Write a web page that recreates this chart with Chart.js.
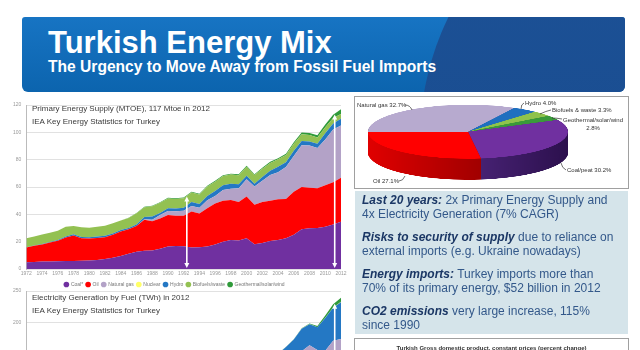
<!DOCTYPE html>
<html><head><meta charset="utf-8">
<script src="https://cdn.jsdelivr.net/npm/chart.js@4.4.1/dist/chart.umd.min.js"></script>
<style>
html,body{margin:0;padding:0;width:640px;height:350px;overflow:hidden;background:#fff;font-family:"Liberation Sans",Arial,sans-serif;}
.abs{position:absolute;}
#banner{left:22px;top:17px;width:603px;height:75px;border-radius:3px 3px 6px 6px;overflow:hidden;background:linear-gradient(#1774c3,#0c64ae);}
#banner .dark{position:absolute;left:398px;top:-157px;width:560px;height:560px;border-radius:50%;background:linear-gradient(#1d5399,#174889);}
#t1{left:26px;top:10px;font-size:31px;font-weight:bold;color:#fff;line-height:31px;white-space:nowrap;}
#t2{left:26px;top:42px;font-size:15.6px;font-weight:bold;color:#fff;line-height:16px;white-space:nowrap;}
.ctitle{font-size:8px;color:#3a3a3a;white-space:nowrap;line-height:8px;}
#piebox{left:354px;top:96px;width:273px;height:91px;border:1px solid #a0a0a0;background:#fff;}
.plab{font-size:6px;color:#333;white-space:nowrap;line-height:6px;}
#textbox{left:355px;top:191px;width:273px;height:143px;background:#d5e4ea;box-sizing:border-box;padding:2px 12px 0 7px;color:#33588a;font-size:12px;line-height:14.2px;}
#textbox p{margin:0 0 8.5px 0;}
#textbox b{color:#1b3765;font-style:italic;}
#gdpbox{left:354px;top:338px;width:273px;height:20px;border:1px solid #a0a0a0;background:#fff;text-align:center;font-size:6px;color:#333;line-height:18px;font-weight:bold;}
</style></head>
<body>
<div id="banner" class="abs"><div class="dark"></div>
  <div id="t1" class="abs">Turkish Energy Mix</div>
  <div id="t2" class="abs">The Urgency to Move Away from Fossil Fuel Imports</div>
</div>

<canvas id="c1" class="abs" width="350" height="200" style="left:0;top:97px;"></canvas>
<div class="abs ctitle" style="left:32px;top:105px;">Primary Energy Supply (MTOE), 117 Mtoe in 2012</div>
<div class="abs ctitle" style="left:32px;top:118px;">IEA Key Energy Statistics for Turkey</div>

<canvas id="c2" class="abs" width="350" height="190" style="left:0;top:283px;"></canvas>
<div class="abs ctitle" style="left:32px;top:294px;">Electricity Generation by Fuel (TWh) in 2012</div>
<div class="abs ctitle" style="left:32px;top:307px;">IEA Key Energy Statistics for Turkey</div>

<div id="piebox" class="abs"></div>
<canvas id="c3" class="abs" width="220" height="300" style="left:358px;top:102.3px;transform:scaleY(0.27);transform-origin:0 0;"></canvas>
<svg class="abs" width="640" height="350" style="left:0;top:0;pointer-events:none;" id="leaders">
  <path d="M405,105 Q410,105 412,110" stroke="#333" stroke-width="0.7" fill="none"/>
  <path d="M524,103 Q521,104 521,109" stroke="#333" stroke-width="0.7" fill="none"/>
  <path d="M551,110 Q546,111 540,114" stroke="#333" stroke-width="0.7" fill="none"/>
  <path d="M562,119 Q557,118 552,118" stroke="#333" stroke-width="0.7" fill="none"/>
  <path d="M566,170 Q562,168 561,163" stroke="#333" stroke-width="0.7" fill="none"/>
  <path d="M399,181 Q403,181 405,176" stroke="#333" stroke-width="0.7" fill="none"/>
</svg>
<div id="pielabels"></div>

<div id="textbox" class="abs">
<p><b>Last 20 years:</b> 2x Primary Energy Supply and 4x Electricity Generation (7% CAGR)</p>
<p><b>Risks to security of supply</b> due to reliance on external imports (e.g. Ukraine nowadays)</p>
<p><b>Energy imports:</b> Turkey imports more than 70% of its primary energy, $52 billion in 2012</p>
<p><b>CO2 emissions</b> very large increase, 115% since 1990</p>
</div>
<div id="gdpbox" class="abs">Turkish Gross domestic product, constant prices (percent change)</div>

<script>
// ---------- DATA ----------
const years = [1972,1973,1974,1975,1976,1977,1978,1979,1980,1981,
  1982,1983,1984,1985,1986,1987,1988,1989,1990,1991,
  1992,1993,1994,1995,1996,1997,1998,1999,2000,2001,
  2002,2003,2004,2005,2006,2007,2008,2009,2010,2011,2012];
const seriesNames = ['Coal*','Oil','Natural gas','Nuclear','Hydro','Biofuels/waste','Geothermal/solar/wind'];

// Primary energy supply (Mtoe)
const tpesCoal = [5.0,5.2,5.4,5.5,5.6,5.8,5.9,6.0,6.2,6.6,
  7.3,8.3,9.5,11.2,12.6,13.4,13.6,14.8,16.5,16.8,
  16.6,15.8,16.0,16.4,18.0,20.0,21.2,20.8,22.5,18.2,
  19.0,20.5,21.3,22.5,25.0,29.0,29.8,30.0,31.0,32.5,34.5];
const tpesOil = [10.8,11.8,12.6,13.8,15.0,17.2,18.6,16.5,16.1,16.0,
  15.9,16.7,17.9,17.8,18.9,22.6,21.4,22.2,23.0,22.2,
  22.4,26.2,24.7,28.1,30.0,30.0,29.2,28.2,30.5,28.8,
  30.0,29.5,29.7,28.8,31.5,31.0,29.6,29.0,30.3,31.0,32.2];
const tpesGas = [0,0,0,0,0,0,0,0,0,0,
  0,0,0,0,0,0.4,1.0,2.5,2.9,3.2,
  3.6,4.1,4.2,5.8,5.5,7.8,8.3,10.0,12.6,13.3,
  15.5,18.8,19.8,23.4,26.2,30.5,31.0,29.5,33.5,38.5,38.3];
const tpesNuclear = [0,0,0,0,0,0,0,0,0,0,0,0,0,0,0,0,0,0,0,0,0,0,0,0,0,0,0,0,0,0,0,0,0,0,0,0,0,0,0,0,0];
const tpesHydro = [0.2,0.2,0.3,0.4,0.7,0.7,0.9,1.0,1.0,1.1,
  1.2,1.0,1.1,1.0,1.0,1.6,2.5,1.5,2.0,2.0,
  2.2,2.9,2.7,3.1,3.5,3.4,3.6,3.0,2.7,2.1,
  2.9,3.0,4.0,3.4,3.8,3.1,2.9,3.1,4.5,4.5,5.0];
const tpesBio = [6.5,6.6,7.0,6.8,6.7,7.3,6.1,7.0,6.9,7.3,
  7.2,7.5,6.9,7.4,8.3,7.2,7.5,7.4,7.2,7.1,
  7.0,7.0,6.9,6.9,6.9,6.8,6.8,6.6,6.5,6.3,
  6.0,5.8,5.5,5.3,5.1,5.0,4.8,4.6,4.5,4.0,3.5];
const tpesGeo = [0,0,0,0,0,0,0,0,0,0,
  0,0,0.1,0.1,0.2,0.3,0.3,0.4,0.5,0.5,
  0.5,0.5,0.5,0.6,0.6,0.6,0.6,0.7,0.7,0.7,
  0.7,0.8,0.8,1.0,1.1,1.2,1.4,1.6,2.0,2.4,3.3];

// Electricity generation (TWh)
const elecCoal = [3.5,4.0,4.2,4.0,4.2,4.6,5.0,5.0,5.3,5.8,
  7.3,10.3,11.6,14.3,17.6,19.2,17.4,22.0,20.5,22.4,
  24.2,22.3,24.1,25.8,27.1,30.9,32.7,34.0,38.2,38.4,
  32.1,32.3,34.4,43.0,44.0,53.0,58.0,55.6,55.0,66.2,68.1];
const elecOil = [4.8,6.2,6.0,5.6,5.3,5.9,5.1,6.2,5.0,3.9,
  3.4,6.0,6.0,7.1,4.7,2.7,1.7,4.2,3.9,3.3,
  5.3,5.2,5.5,5.8,6.5,7.2,7.9,8.1,9.3,10.4,
  10.7,9.2,7.7,5.5,4.3,6.5,7.5,4.8,2.2,0.9,1.6];
const elecGas = [0,0,0,0,0,0,0,0,0,0,
  0,0,0,0.1,2.7,6.0,6.9,9.5,10.2,12.6,
  10.8,10.8,13.8,16.6,17.2,22.2,25.0,36.3,46.2,49.5,
  52.5,63.5,62.2,73.4,80.7,95.0,98.7,96.1,98.1,104.0,104.5];
const elecNuclear = [0,0,0,0,0,0,0,0,0,0,0,0,0,0,0,0,0,0,0,0,0,0,0,0,0,0,0,0,0,0,0,0,0,0,0,0,0,0,0,0,0];
const elecHydro = [2.8,2.6,3.4,5.9,8.4,8.6,10.0,11.3,11.3,12.6,
  14.2,11.3,13.4,12.0,11.9,18.6,28.9,18.0,23.1,22.7,
  26.6,34.0,30.6,35.5,40.5,39.8,42.2,34.7,30.9,24.0,
  33.7,35.3,46.1,39.6,44.2,35.9,33.3,36.0,51.8,52.3,57.9];
const elecBio = [0,0,0,0,0,0,0,0,0,0,
  0,0,0,0,0,0,0,0,0.1,0.1,
  0.1,0.1,0.1,0.2,0.2,0.2,0.2,0.2,0.2,0.2,
  0.2,0.1,0.1,0.1,0.2,0.2,0.2,0.3,0.5,0.5,0.7];
const elecGeo = [0,0,0,0,0,0,0,0,0,0,
  0,0,0.02,0.06,0.04,0.06,0.07,0.06,0.08,0.08,
  0.07,0.08,0.08,0.09,0.09,0.09,0.1,0.1,0.1,0.1,
  0.2,0.2,0.2,0.2,0.2,0.5,1.0,1.9,3.6,5.3,6.7];

// Arrow annotations (year, top value)
const tpesArrowYears = [1992.4, 2011.2];
const tpesArrowTops = [53, 113];
const elecArrowYears = [2011.2];
const elecArrowTops = [230];

// 2012 primary energy mix (%)
const pieLabels = ['Natural gas','Hydro','Biofuels & waste','Geothermal/solar/wind','Coal/peat','Oil'];
const pieValues = [32.7, 4.0, 3.3, 2.8, 30.2, 27.1];

// ---------- STYLE ----------
const FONT = '"Liberation Sans", Arial, sans-serif';
const fillColors = ['#7030a0','#ff0000','#b3a2c7','#ffff66','#2478c4','#93c152','#2f9a3a'];

function buildDatasets(arrs){
  return arrs.map((arr,i)=>({
    label: seriesNames[i],
    data: arr.map((v,j)=>({x:years[j], y:v})),
    backgroundColor: fillColors[i],
    borderColor: fillColors[i],
    borderWidth: 0,
    pointRadius: 0,
    tension: 0,
    fill: i===0 ? 'origin' : '-1'
  }));
}

const arrowPlugin = {
  id:'arrows',
  afterDatasetsDraw(chart, args, opts){
    const ctx = chart.ctx, xs = chart.scales.x, ys = chart.scales.y;
    ctx.save();
    ctx.strokeStyle = '#fff'; ctx.fillStyle = '#fff'; ctx.lineWidth = 1.6;
    opts.years.forEach((yr,i)=>{
      const x = xs.getPixelForValue(yr);
      const yTop = ys.getPixelForValue(opts.tops[i]);
      const yBot = ys.getPixelForValue(opts.bottom);
      ctx.beginPath(); ctx.moveTo(x,yTop+3); ctx.lineTo(x,yBot-3); ctx.stroke();
      ctx.beginPath(); ctx.moveTo(x,yTop); ctx.lineTo(x-2.5,yTop+5); ctx.lineTo(x+2.5,yTop+5); ctx.closePath(); ctx.fill();
      ctx.beginPath(); ctx.moveTo(x,yBot); ctx.lineTo(x-2.5,yBot-5); ctx.lineTo(x+2.5,yBot-5); ctx.closePath(); ctx.fill();
    });
    ctx.restore();
  }
};

function areaOptions(yMax, step, showX, legend, arrows, pad){
  return {
    responsive:false, animation:false,
    layout:{padding:pad},
    plugins:{
      legend: legend ? {
        display:true, position:'bottom',
        labels:{font:{size:5,family:FONT}, color:'#777', usePointStyle:true, pointStyle:'circle', boxWidth:4, boxHeight:4, padding:3}
      } : {display:false},
      tooltip:{enabled:false},
      arrows: arrows
    },
    scales:{
      x:{type:'linear', min:1972, max:2012,
         grid:{display:false, drawTicks:false},
         border:{display:false},
         ticks:{display:showX, stepSize:2, autoSkip:false, maxRotation:0, padding:2,
                font:{size:5,family:FONT}, color:'#999', callback:v=>String(v)}},
      y:{stacked:true, min:0, max:yMax,
         grid:{color:'#d9d9d9', lineWidth:0.8, drawTicks:false},
         border:{display:true, color:'#bbb'},
         ticks:{stepSize:step, padding:5, font:{size:5,family:FONT}, color:'#999'}}
    }
  };
}

new Chart(document.getElementById('c1'), {
  type:'line',
  data:{datasets: buildDatasets([tpesCoal,tpesOil,tpesGas,tpesNuclear,tpesHydro,tpesBio,tpesGeo])},
  options: areaOptions(120, 20, true, true, {years:tpesArrowYears, tops:tpesArrowTops, bottom:0.8}, {top:4,left:8,right:9,bottom:0}),
  plugins:[arrowPlugin]
});

new Chart(document.getElementById('c2'), {
  type:'line',
  data:{datasets: buildDatasets([elecCoal,elecOil,elecGas,elecNuclear,elecHydro,elecBio,elecGeo])},
  options: areaOptions(250, 50, false, false, {years:elecArrowYears, tops:elecArrowTops, bottom:2}, {top:3,left:8,right:9,bottom:24}),
  plugins:[arrowPlugin]
});

// ---------- 3D PIE ----------
const pieTop = ['#b7aacf','#1f6fbf','#8fc34c','#3a9a3a','#7030a0','#ff0000'];
const pieSide = ['#8a7ca6','#124f8c','#5f8f2a','#1f6b1f','#3d1a66','#c00000'];
const pie3d = {
  id:'pie3d',
  beforeDatasetsDraw(chart, args, opts){
    const ctx = chart.ctx, meta = chart.getDatasetMeta(0);
    const items = meta.data.map((a,i)=>({a,i}));
    items.sort((p,q)=>Math.sin((p.a.startAngle+p.a.endAngle)/2)-Math.sin((q.a.startAngle+q.a.endAngle)/2));
    ctx.save();
    items.forEach(({a,i})=>{
      const p = a.getProps(['x','y','startAngle','endAngle','outerRadius'], true);
      let fs = pieSide[i];
      if (i===5) { const g = ctx.createLinearGradient(p.x-p.outerRadius,0,p.x+15,0); g.addColorStop(0,'#e00000'); g.addColorStop(1,'#a00000'); fs = g; }
      if (i===4) { const g = ctx.createLinearGradient(p.x,0,p.x+p.outerRadius,0); g.addColorStop(0,'#4a2478'); g.addColorStop(1,'#2c104d'); fs = g; }
      ctx.fillStyle = fs;
      for (let d = opts.depth; d >= 1; d--) {
        ctx.beginPath(); ctx.moveTo(p.x, p.y+d);
        ctx.arc(p.x, p.y+d, p.outerRadius, p.startAngle, p.endAngle);
        ctx.closePath(); ctx.fill();
      }
    });
    ctx.restore();
  }
};
new Chart(document.getElementById('c3'), {
  type:'pie',
  data:{labels:pieLabels, datasets:[{data:pieValues, backgroundColor:pieTop, borderWidth:0}]},
  options:{
    responsive:false, animation:false, rotation:270,
    layout:{padding:{top:10,left:10,right:10,bottom:90}},
    plugins:{legend:{display:false}, tooltip:{enabled:false}, pie3d:{depth:78}}
  },
  plugins:[pie3d]
});

// pie labels (text from data, placement by layout)
const pieLabelPos = [[357,102],[525,100],[552,107],[563,116],[567,167],[373,178]];
const holder = document.getElementById('pielabels');
pieLabels.forEach((lab,i)=>{
  const d = document.createElement('div');
  d.className = 'abs plab';
  d.style.left = pieLabelPos[i][0]+'px'; d.style.top = pieLabelPos[i][1]+'px';
  if (i===3) { d.style.textAlign='center'; d.innerHTML = lab + '<br><span style="line-height:9px">' + pieValues[i].toFixed(1) + '%</span>'; d.style.lineHeight='8px'; }
  else d.textContent = lab + ' ' + pieValues[i].toFixed(1) + '%';
  holder.appendChild(d);
});
</script>
</body></html>
